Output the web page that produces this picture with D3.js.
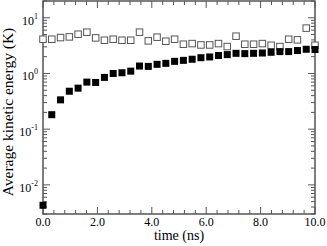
<!DOCTYPE html>
<html><head><meta charset="utf-8">
<script src="https://cdn.jsdelivr.net/npm/d3@7"></script>
<style>body{margin:0;background:#fff}svg{display:block}text{font-family:"Liberation Serif","Times New Roman",serif}</style>
</head><body>
<svg id="c" width="327" height="246"></svg>
<script>
const filledY = [0.0043,0.182,0.336,0.48,0.545,0.70,0.69,0.85,1.0,1.03,1.10,1.36,1.34,1.46,1.52,1.65,1.72,1.80,1.92,1.98,2.10,2.18,2.30,2.27,2.30,2.33,2.40,2.47,2.47,2.58,2.72,2.69];
const openY = [4.12,4.12,4.41,4.54,5.07,5.51,4.35,3.95,4.12,3.95,3.95,5.51,3.85,4.48,3.79,4.12,3.35,3.44,3.25,3.25,3.44,3.04,4.67,3.35,3.35,3.44,3.21,3.04,4.12,4.01,6.52,3.21];
const timeX = filledY.map((d,i)=>i*10/31);
const xTickLabels = ["0.0","2.0","4.0","6.0","8.0","10.0"];
const yTickExps = [-2,-1,0,1];

const svg = d3.select("#c");
const L=43,R=315,T=1,B=214;
const x = d3.scaleLinear().domain([0,10]).range([L,R]);
const y = d3.scaleLog().domain([0.003,20]).range([B,T]);
const axCol="#555";

const g = svg.append("g");
const xMajor = d3.range(0,10.01,2), xMinor = d3.range(0,10.01,0.4).filter(v=>Math.abs(v/2-Math.round(v/2))>1e-6);
function xt(v,len){
  g.append("line").attr("x1",x(v)).attr("x2",x(v)).attr("y1",B).attr("y2",B-len).attr("stroke",axCol);
  g.append("line").attr("x1",x(v)).attr("x2",x(v)).attr("y1",T).attr("y2",T+len).attr("stroke",axCol);
}
xMajor.forEach(v=>xt(v,7)); xMinor.forEach(v=>xt(v,4));
const yMinor=[];
for(let e=-3;e<=1;e++) for(let m=2;m<=9;m++){const v=m*Math.pow(10,e); if(v>=0.003&&v<=20) yMinor.push(v);}
function yt(v,len){
  g.append("line").attr("x1",L).attr("x2",L+len).attr("y1",y(v)).attr("y2",y(v)).attr("stroke",axCol);
  g.append("line").attr("x1",R).attr("x2",R-len).attr("y1",y(v)).attr("y2",y(v)).attr("stroke",axCol);
}
yTickExps.forEach(e=>yt(Math.pow(10,e),7)); yMinor.forEach(v=>yt(v,4));
svg.append("rect").attr("x",L).attr("y",T).attr("width",R-L).attr("height",B-T).attr("fill","none").attr("stroke",axCol).attr("stroke-width",1.5);

xMajor.forEach((v,i)=>svg.append("text").attr("x",x(v)).attr("y",B+12).attr("text-anchor","middle").attr("font-size",12).text(xTickLabels[i]));
yTickExps.forEach(e=>{
  const t=svg.append("text").attr("x",L-5).attr("y",y(Math.pow(10,e))+7).attr("text-anchor","end").attr("font-size",12);
  t.append("tspan").text("10");
  t.append("tspan").attr("dy",-6).attr("font-size",8).text(String(e));
});
svg.append("text").attr("x",(L+R)/2).attr("y",240).attr("text-anchor","middle").attr("font-size",14).text("time (ns)");
svg.append("text").attr("transform",`translate(13,112) rotate(-90)`).attr("text-anchor","middle").attr("font-size",15.5).text("Average kinetic energy (K)");

const s=7;
svg.append("g").selectAll("rect").data(openY).join("rect")
  .attr("x",(d,i)=>x(timeX[i])-3.25).attr("y",d=>y(d)-3.25).attr("width",6.5).attr("height",6.5)
  .attr("fill","#fff").attr("stroke","#555").attr("stroke-width",1);
svg.append("g").selectAll("rect").data(filledY).join("rect")
  .attr("x",(d,i)=>x(timeX[i])-s/2).attr("y",d=>y(d)-s/2).attr("width",s).attr("height",s)
  .attr("fill","#000");
</script>
</body></html>
